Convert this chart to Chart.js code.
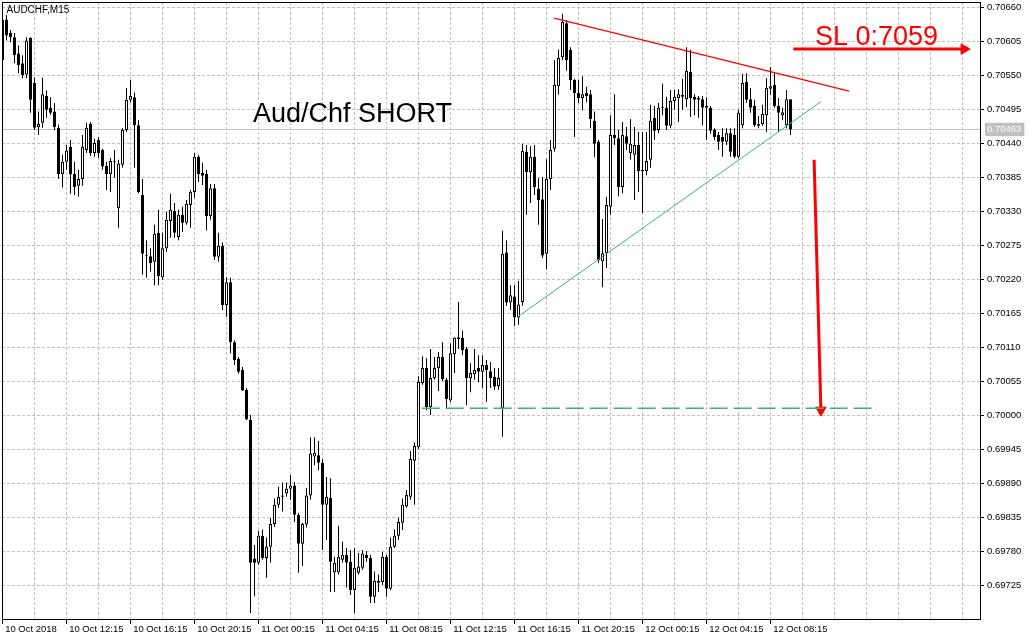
<!DOCTYPE html>
<html><head><meta charset="utf-8">
<script src="https://cdn.jsdelivr.net/npm/chart.js@4.4.0/dist/chart.umd.min.js"></script>
<style>html,body{margin:0;padding:0;background:#fff;}canvas{display:block;}</style>
</head><body>
<canvas id="c" width="1035" height="640"></canvas>
<script>
// ---- data (AUDCHF M15, bar index 0 = 10 Oct 08:15) ----
const open = [
0.70575,0.70641,0.70619,0.70612,0.70586,0.70570,0.70552,0.70611,0.70538,0.70467,
0.70474,0.70517,0.70498,0.70492,0.70466,0.70391,0.70411,0.70435,0.70391,0.70372,
0.70383,0.70430,0.70472,0.70425,0.70446,0.70430,0.70404,0.70391,0.70411,0.70336,
0.70406,0.70462,0.70511,0.70515,0.70470,0.70357,0.70259,0.70258,0.70249,0.70296,
0.70224,0.70271,0.70315,0.70331,0.70289,0.70325,0.70312,0.70341,0.70362,0.70419,
0.70393,0.70391,0.70323,0.70368,0.70257,0.70275,0.70179,0.70216,0.70119,0.70092,
0.70074,0.70042,0.69993,0.69769,0.69762,0.69806,0.69770,0.69788,0.69825,0.69856,
0.69871,0.69874,0.69882,0.69887,0.69840,0.69793,0.69824,0.69871,0.69934,0.69936,
0.69924,0.69856,0.69867,0.69747,0.69747,0.69767,0.69775,0.69764,0.69718,0.69746,
0.69754,0.69775,0.69770,0.69707,0.69730,0.69731,0.69772,0.69720,0.69788,0.69806,
0.69827,0.69853,0.69869,0.69927,0.69949,0.70053,0.70077,0.70014,0.70061,0.70077,
0.70095,0.70058,0.70025,0.70100,0.70127,0.70126,0.70108,0.70061,0.70067,0.70077,
0.70071,0.70082,0.70072,0.70063,0.70048,0.70012,0.70264,0.70183,0.70193,0.70159,
0.70184,0.70427,0.70394,0.70419,0.70367,0.70350,0.70262,0.70383,0.70432,0.70533,
0.70580,0.70635,0.70592,0.70543,0.70522,0.70514,0.70522,0.70520,0.70477,0.70443,
0.70250,0.70263,0.70338,0.70454,0.70449,0.70370,0.70452,0.70425,0.70422,0.70438,
0.70397,0.70396,0.70414,0.70482,0.70462,0.70499,0.70498,0.70469,0.70509,0.70514,
0.70519,0.70512,0.70556,0.70516,0.70514,0.70512,0.70501,0.70498,0.70462,0.70454,
0.70451,0.70443,0.70457,0.70454,0.70419,0.70470,0.70540,0.70512,0.70501,0.70469,
0.70472,0.70486,0.70529,0.70535,0.70501,0.70486,0.70470,0.70512];
const high = [
0.70645,0.70648,0.70624,0.70619,0.70599,0.70583,0.70612,0.70612,0.70547,0.70492,
0.70547,0.70526,0.70515,0.70506,0.70471,0.70422,0.70438,0.70446,0.70411,0.70398,
0.70454,0.70474,0.70475,0.70448,0.70451,0.70432,0.70411,0.70417,0.70430,0.70414,
0.70465,0.70530,0.70543,0.70523,0.70478,0.70383,0.70284,0.70271,0.70309,0.70333,
0.70296,0.70330,0.70359,0.70344,0.70333,0.70338,0.70349,0.70365,0.70425,0.70422,
0.70409,0.70398,0.70375,0.70375,0.70296,0.70280,0.70224,0.70223,0.70122,0.70095,
0.70079,0.70045,0.70001,0.69791,0.69814,0.69816,0.69803,0.69835,0.69866,0.69885,
0.69892,0.69892,0.69904,0.69893,0.69843,0.69827,0.69883,0.69965,0.69965,0.69959,
0.69930,0.69901,0.69899,0.69772,0.69822,0.69796,0.69786,0.69783,0.69786,0.69778,
0.69783,0.69781,0.69775,0.69748,0.69743,0.69780,0.69775,0.69803,0.69816,0.69835,
0.69866,0.69880,0.69943,0.69957,0.70064,0.70096,0.70093,0.70108,0.70095,0.70103,
0.70119,0.70061,0.70117,0.70127,0.70184,0.70138,0.70111,0.70085,0.70108,0.70098,
0.70098,0.70090,0.70087,0.70077,0.70077,0.70299,0.70284,0.70211,0.70211,0.70218,
0.70440,0.70438,0.70436,0.70438,0.70384,0.70386,0.70415,0.70446,0.70575,0.70592,
0.70650,0.70640,0.70596,0.70545,0.70543,0.70549,0.70532,0.70527,0.70492,0.70446,
0.70318,0.70354,0.70486,0.70520,0.70462,0.70475,0.70467,0.70480,0.70467,0.70459,
0.70459,0.70459,0.70503,0.70501,0.70506,0.70537,0.70516,0.70527,0.70527,0.70528,
0.70545,0.70596,0.70592,0.70520,0.70517,0.70517,0.70515,0.70501,0.70465,0.70459,
0.70465,0.70465,0.70465,0.70465,0.70495,0.70553,0.70554,0.70530,0.70511,0.70485,
0.70503,0.70546,0.70564,0.70554,0.70514,0.70498,0.70527,0.70512];
const low = [
0.70556,0.70607,0.70604,0.70570,0.70554,0.70546,0.70546,0.70490,0.70462,0.70454,
0.70466,0.70482,0.70487,0.70462,0.70383,0.70369,0.70398,0.70359,0.70357,0.70354,
0.70372,0.70425,0.70420,0.70419,0.70417,0.70398,0.70365,0.70362,0.70385,0.70304,
0.70401,0.70459,0.70507,0.70401,0.70360,0.70228,0.70223,0.70233,0.70211,0.70211,
0.70220,0.70265,0.70288,0.70288,0.70284,0.70297,0.70309,0.70304,0.70352,0.70378,
0.70373,0.70300,0.70317,0.70252,0.70249,0.70171,0.70160,0.70101,0.70082,0.70068,
0.70040,0.69993,0.69681,0.69708,0.69759,0.69767,0.69738,0.69762,0.69820,0.69851,
0.69845,0.69869,0.69864,0.69828,0.69746,0.69757,0.69819,0.69864,0.69920,0.69912,
0.69783,0.69799,0.69715,0.69715,0.69743,0.69762,0.69722,0.69710,0.69681,0.69743,
0.69751,0.69764,0.69697,0.69697,0.69715,0.69726,0.69707,0.69718,0.69786,0.69799,
0.69815,0.69851,0.69864,0.69856,0.69946,0.70050,0.70009,0.70001,0.70058,0.70040,
0.70056,0.70012,0.70022,0.70069,0.70108,0.70098,0.70017,0.70038,0.70058,0.70054,
0.70045,0.70022,0.70045,0.70042,0.70042,0.69966,0.70178,0.70171,0.70145,0.70147,
0.70178,0.70325,0.70344,0.70357,0.70309,0.70255,0.70237,0.70365,0.70427,0.70519,
0.70575,0.70558,0.70527,0.70451,0.70506,0.70494,0.70507,0.70465,0.70418,0.70247,
0.70208,0.70239,0.70325,0.70438,0.70355,0.70360,0.70430,0.70414,0.70349,0.70362,
0.70328,0.70389,0.70401,0.70446,0.70457,0.70486,0.70462,0.70465,0.70495,0.70475,
0.70495,0.70499,0.70483,0.70486,0.70482,0.70470,0.70446,0.70456,0.70446,0.70430,
0.70419,0.70438,0.70419,0.70417,0.70417,0.70465,0.70506,0.70490,0.70467,0.70465,
0.70469,0.70459,0.70519,0.70498,0.70459,0.70478,0.70465,0.70454];
const close = [
0.70640,0.70615,0.70612,0.70583,0.70567,0.70551,0.70607,0.70511,0.70466,0.70472,
0.70520,0.70495,0.70490,0.70467,0.70391,0.70411,0.70429,0.70390,0.70370,0.70383,
0.70435,0.70466,0.70425,0.70441,0.70425,0.70403,0.70391,0.70412,0.70410,0.70408,
0.70462,0.70511,0.70517,0.70470,0.70362,0.70262,0.70258,0.70247,0.70294,0.70226,
0.70271,0.70317,0.70333,0.70296,0.70325,0.70312,0.70343,0.70362,0.70419,0.70391,
0.70388,0.70323,0.70368,0.70257,0.70275,0.70179,0.70216,0.70119,0.70090,0.70071,
0.70041,0.69994,0.69762,0.69762,0.69806,0.69770,0.69788,0.69825,0.69856,0.69869,
0.69869,0.69882,0.69887,0.69840,0.69793,0.69825,0.69871,0.69939,0.69940,0.69924,
0.69856,0.69869,0.69764,0.69762,0.69772,0.69775,0.69762,0.69718,0.69754,0.69756,
0.69777,0.69770,0.69707,0.69733,0.69733,0.69772,0.69720,0.69788,0.69806,0.69828,
0.69856,0.69872,0.69930,0.69951,0.70055,0.70077,0.70014,0.70061,0.70077,0.70095,
0.70059,0.70027,0.70101,0.70126,0.70124,0.70106,0.70061,0.70069,0.70074,0.70071,
0.70082,0.70074,0.70061,0.70047,0.70061,0.70262,0.70183,0.70195,0.70159,0.70180,
0.70428,0.70394,0.70419,0.70370,0.70349,0.70259,0.70383,0.70430,0.70535,0.70579,
0.70637,0.70575,0.70543,0.70522,0.70514,0.70520,0.70517,0.70480,0.70440,0.70252,
0.70263,0.70341,0.70454,0.70449,0.70370,0.70454,0.70440,0.70440,0.70438,0.70396,
0.70396,0.70412,0.70477,0.70461,0.70498,0.70498,0.70469,0.70509,0.70516,0.70520,
0.70516,0.70558,0.70514,0.70511,0.70511,0.70498,0.70498,0.70461,0.70451,0.70443,
0.70443,0.70457,0.70427,0.70419,0.70490,0.70538,0.70511,0.70498,0.70470,0.70472,
0.70488,0.70530,0.70533,0.70501,0.70490,0.70491,0.70512,0.70463];

const timeLabels = ['10 Oct 2018','10 Oct 12:15','10 Oct 16:15','10 Oct 20:15','11 Oct 00:15','11 Oct 04:15',
  '11 Oct 08:15','11 Oct 12:15','11 Oct 16:15','11 Oct 20:15','12 Oct 00:15','12 Oct 04:15','12 Oct 08:15'];
const timeLabelBars = [0,16,32,48,64,80,96,112,128,144,160,176,192];
const priceTicks = [0.70660,0.70605,0.70550,0.70495,0.70440,0.70385,0.70330,0.70275,0.70220,
  0.70165,0.70110,0.70055,0.70000,0.69945,0.69890,0.69835,0.69780,0.69725];
const currentPrice = 0.70463;

// drawn objects (bar index, price)
const resistanceLine = [{x:137.9,y:0.70643},{x:211.7,y:0.70525}];
const supportLine    = [{x:128.6,y:0.70159},{x:204.6,y:0.70508}];
const targetLine     = [{x:104.8,y:0.70012},{x:217.4,y:0.70012}];
const downArrow      = [{x:202.9,y:0.70414},{x:204.6,y:0.70009}];
const slArrow        = [{x:197.7,y:0.70593},{x:240.4,y:0.70593}];
const notes = [
  {text:'Aud/Chf SHORT', x:62.6, y:0.704756},
  {text:'SL 0:7059', x:203.1, y:0.705997}
];
const noteStyles = [{color:'#000000'},{color:'#ff0000'}];

// ---- build ----
const xMin = -0.125, xMax = 244.375;
const gridBars = [];
for (let v = 0; v <= 240; v += 8) gridBars.push(v);

const bodyData = open.map((o,i)=>({x:i, y:[o, close[i]]}));
const wickData = open.map((o,i)=>({x:i, y:[low[i], high[i]]}));
const bodyFill = open.map((o,i)=> close[i] > o ? '#ffffff' : '#000000');

const FONT = 'Liberation Sans';
const isCur = v => Math.abs(v - currentPrice) < 1e-9;

const lineDs = (data, color, width, extra) => Object.assign({
  type:'line', data, borderColor:color, backgroundColor:color, borderWidth:width,
  pointRadius:0, pointHoverRadius:0, tension:0, fill:false, order:0
}, extra || {});

const overlay = {
  id:'overlay',
  afterDraw(chart){
    const {ctx, chartArea:a, scales:{x, y}} = chart;
    ctx.save();
    ctx.strokeStyle = '#000'; ctx.lineWidth = 1; ctx.setLineDash([]);
    ctx.strokeRect(a.left + 0.5, a.top + 0.5, a.right - a.left, a.bottom - a.top);
    ctx.fillStyle = '#000';
    ctx.textBaseline = 'alphabetic';
    ctx.font = '10px "' + FONT + '"';
    ctx.fillText('AUDCHF,M15', a.left + 4.5, a.top + 11);
    notes.forEach((n, k) => {
      ctx.font = '27px "' + FONT + '"';
      ctx.fillStyle = noteStyles[k].color;
      ctx.fillText(n.text, x.getPixelForValue(n.x), y.getPixelForValue(n.y));
    });
    ctx.restore();
  }
};

new Chart(document.getElementById('c'), {
  type:'bar',
  data:{
    datasets:[
      {type:'bar', data:bodyData, barThickness:3, backgroundColor:bodyFill, borderColor:'#000',
       borderWidth:1, borderSkipped:false, grouped:false, minBarLength:1, inflateAmount:0, order:1},
      {type:'bar', data:wickData, barThickness:1, backgroundColor:'#000', borderWidth:0,
       grouped:false, inflateAmount:0, order:2},
      lineDs([{x:xMin,y:currentPrice},{x:xMax,y:currentPrice}], '#c0c0c0', 1, {order:3}),
      lineDs(resistanceLine, '#ff0000', 1.2),
      lineDs(supportLine, '#3cb371', 1),
      lineDs(targetLine, '#3cb371', 1.5, {borderDash:[18,6]}),
      lineDs(downArrow, '#ff0000', 3, {pointRadius:[0,6], pointStyle:'triangle', pointRotation:[0,180],
        pointBackgroundColor:'#ff0000', pointBorderColor:'#ff0000', pointBorderWidth:1}),
      lineDs(slArrow, '#ff0000', 3, {pointRadius:[0,6], pointStyle:'triangle', pointRotation:[0,90],
        pointBackgroundColor:'#ff0000', pointBorderColor:'#ff0000', pointBorderWidth:1})
    ]
  },
  options:{
    responsive:false, devicePixelRatio:1, animation:false, events:[],
    layout:{autoPadding:false, padding:{left:2, top:2, right:0, bottom:0}},
    plugins:{legend:{display:false}, tooltip:{enabled:false}},
    scales:{
      x:{
        type:'linear', position:'bottom', min:xMin, max:xMax, offset:false, bounds:'data',
        grid:{color:'#c0c0c0', lineWidth:1, offset:false, drawTicks:true, tickLength:5,
          tickColor: c => (c.tick && timeLabelBars.includes(c.tick.value)) ? '#000' : 'rgba(0,0,0,0)',
          tickBorderDash:[]},
        border:{display:true, color:'#000', dash:[3,2]},
        ticks:{autoSkip:false, maxRotation:0, minRotation:0, align:'start', padding:0, color:'#000',
          font:{family:FONT, size:9.5},
          callback: v => { const k = timeLabelBars.indexOf(v); return k >= 0 ? ' ' + timeLabels[k] : ''; }},
        afterBuildTicks: ax => { ax.ticks = gridBars.map(v => ({value:v})); },
        afterFit: ax => { ax.height = 21; ax.paddingLeft = 0; ax.paddingRight = 0; }
      },
      y:{
        type:'linear', position:'right', min:0.696712, max:0.706692, beginAtZero:false, bounds:'data',
        grid:{lineWidth:1, tickLength:4, tickBorderDash:[],
          color: c => (c.tick && isCur(c.tick.value)) ? 'rgba(0,0,0,0)' : '#c0c0c0',
          tickColor: c => (c.tick && isCur(c.tick.value)) ? 'rgba(0,0,0,0)' : '#000'},
        border:{display:true, color:'#000', dash:[3,2]},
        ticks:{autoSkip:false, padding:3, font:{family:FONT, size:9.5},
          color: c => (c.tick && isCur(c.tick.value)) ? '#ffffff' : '#000',
          showLabelBackdrop: c => !!(c.tick && isCur(c.tick.value)),
          backdropColor:'#c0c0c0', backdropPadding:{top:1, bottom:1, left:2, right:3},
          callback: v => Number(v).toFixed(5)},
        afterBuildTicks: ax => { ax.ticks = priceTicks.concat([currentPrice]).map(v => ({value:v})); },
        afterFit: ax => { ax.width = 55; ax.paddingTop = 0; ax.paddingBottom = 0; }
      }
    }
  },
  plugins:[overlay]
});
</script>
</body></html>
